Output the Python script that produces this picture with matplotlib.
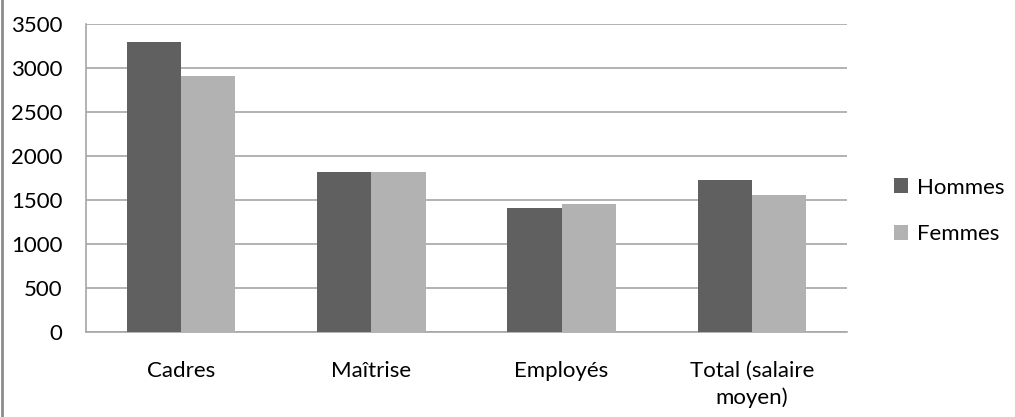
import matplotlib
matplotlib.use("Agg")
import matplotlib.pyplot as plt
import numpy as np
from matplotlib.lines import Line2D

categories = ["Cadres", "Maîtrise", "Employés", "Total (salaire\nmoyen)"]
hommes = [3300, 1820, 1410, 1730]
femmes = [2910, 1820, 1455, 1560]
series_names = ["Hommes", "Femmes"]
y_ticks = [0, 500, 1000, 1500, 2000, 2500, 3000, 3500]

plt.rcParams["font.family"] = ["Lato", "DejaVu Sans"]

fig = plt.figure(figsize=(10.15, 4.17), dpi=100)
ax = fig.add_axes([86 / 1015, 1 - 332 / 417, (847 - 86) / 1015, (332 - 24) / 417])

x = np.arange(len(categories))
width = 1 / 3.5
c_h = "#606060"
c_f = "#b2b2b2"
ax.bar(x - width / 2, hommes, width, color=c_h, label=series_names[0], zorder=3)
ax.bar(x + width / 2, femmes, width, color=c_f, label=series_names[1], zorder=3)

ax.set_xlim(-0.5, len(categories) - 0.5)
ax.set_ylim(0, 3500)
ax.set_yticks(y_ticks)
ax.set_yticklabels([str(v) for v in y_ticks], fontsize=16, color="#000000")
ax.set_xticks(x)
ax.set_xticklabels(categories, fontsize=16, color="#000000", linespacing=1.35)
ax.tick_params(axis="x", length=0, pad=21)
ax.tick_params(axis="y", length=0, pad=17)

ax.grid(axis="y", color="#a6a6a6", linewidth=1.2, zorder=0)
for side in ["top", "right"]:
    ax.spines[side].set_visible(False)
for side in ["left", "bottom"]:
    ax.spines[side].set_color("#a6a6a6")
    ax.spines[side].set_linewidth(1.2)

fig.legend(loc="center left", bbox_to_anchor=(874 / 1015, 1 - 211 / 417),
           frameon=False, fontsize=16, handlelength=0.65, handleheight=0.65,
           handletextpad=0.4, labelspacing=1.2)

# chart area border on the left edge
fig.add_artist(Line2D([2 / 1015, 2 / 1015], [0, 1], color="#8c8c8c", linewidth=2,
                      transform=fig.transFigure))

fig.savefig("out.png", dpi=100)
